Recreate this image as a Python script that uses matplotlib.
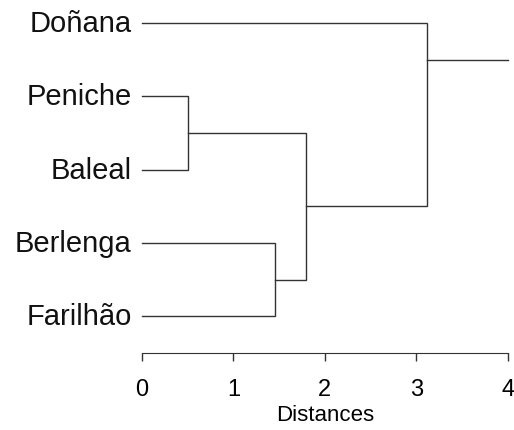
import matplotlib
matplotlib.use('Agg')
import matplotlib.pyplot as plt

plt.rcParams['font.family'] = ['Liberation Sans', 'DejaVu Sans']

# leaves, top to bottom
leaves = ['Doñana', 'Peniche', 'Baleal', 'Berlenga', 'Farilhão']
# merges: (left node, right node, height); leaves are 0..4, new nodes 5..
merges = [(1, 2, 0.50), (3, 4, 1.45), (5, 6, 1.79), (0, 7, 3.12)]
root_y = 0.5      # where the root stem is drawn
root_end = 4.0    # root stem goes to the axis end
xticks = [0, 1, 2, 3, 4]
line_col = '#333333'

fig = plt.figure(figsize=(5.14, 4.31), dpi=100)
ax = fig.add_axes([0.2763, 0.1787, 0.7114, 0.7981])

pos = {i: float(i) for i in range(len(leaves))}
hgt = {i: 0.0 for i in range(len(leaves))}
node = len(leaves)
for a, b, h in merges:
    ax.plot([hgt[a], h, h, hgt[b]], [pos[a], pos[a], pos[b], pos[b]],
            color=line_col, lw=1.0, clip_on=False, solid_joinstyle='miter')
    pos[node] = (pos[a] + pos[b]) / 2
    hgt[node] = h
    node += 1

# root
last = node - 1
pos[last] = root_y
ax.plot([hgt[last], root_end], [root_y, root_y], color=line_col, lw=1.0, clip_on=False)

for i, name in enumerate(leaves):
    ax.annotate(name, (0, i), xytext=(-7.5, 0), textcoords='offset points',
                ha='right', va='center', fontsize=21, color='#111111',
                annotation_clip=False)

ax.set_xlim(0, 4)
ax.set_ylim(4.5, -0.19)
for s in ['top', 'right', 'left']:
    ax.spines[s].set_visible(False)
ax.spines['bottom'].set_color(line_col)
ax.set_yticks([])
ax.set_xticks(xticks)
ax.tick_params(axis='x', direction='out', length=6, width=1, color=line_col,
               labelsize=17, pad=12)
ax.set_xlabel('Distances', fontsize=16, labelpad=3)

plt.savefig('out.png', dpi=100)
